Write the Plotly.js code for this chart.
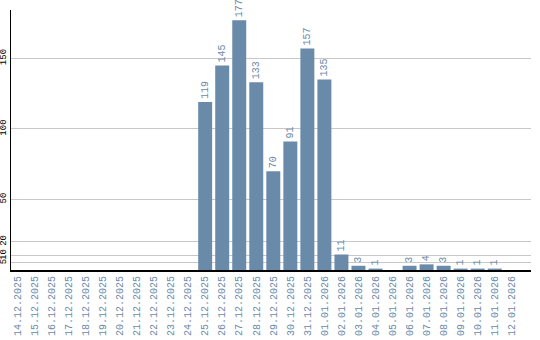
<!DOCTYPE html>
<html><head><meta charset="utf-8">
<script src="https://cdn.plot.ly/plotly-3.0.1.min.js"></script>
<style>html,body{margin:0;padding:0;background:#fff}#c{width:540px;height:340px}</style>
</head><body><div id="c"></div>
<script>
const dates = ["14.12.2025","15.12.2025","16.12.2025","17.12.2025","18.12.2025","19.12.2025","20.12.2025","21.12.2025","22.12.2025","23.12.2025","24.12.2025","25.12.2025","26.12.2025","27.12.2025","28.12.2025","29.12.2025","30.12.2025","31.12.2025","01.01.2026","02.01.2026","03.01.2026","04.01.2026","05.01.2026","06.01.2026","07.01.2026","08.01.2026","09.01.2026","10.01.2026","11.01.2026","12.01.2026"];
const values = [0,0,0,0,0,0,0,0,0,0,0,119,145,177,133,70,91,157,135,11,3,1,0,3,4,3,1,1,1,0];
const yTicks = [5,10,20,50,100,150];
const labels = values.map(v => v > 0 ? String(v) : "");
const trace = {
  type: "bar", x: dates, y: values, text: labels,
  textposition: "outside", textangle: -90, cliponaxis: false, constraintext: "none",
  textfont: {family: "Liberation Mono", size: 10, color: "#6a8aaa"},
  marker: {color: "#6a8aaa"}, hoverinfo: "none"
};
const layout = {
  width: 540, height: 340, showlegend: false,
  margin: {l: 11, r: 9, t: 10, b: 70},
  paper_bgcolor: "#fff", plot_bgcolor: "#fff",
  bargap: 0.18,
  xaxis: {type: "category", range: [-0.4, 30.13], tickangle: -90,
    tickfont: {family: "Liberation Mono", size: 10, color: "#6a8aaa"},
    showline: true, linecolor: "#000", linewidth: 2, showgrid: false, ticks: "", automargin: false},
  yaxis: {range: [0, 184.3], tickvals: yTicks, ticktext: yTicks.map(String), tickangle: -90,
    tickfont: {family: "Liberation Mono", size: 9, color: "#000"},
    showline: true, linecolor: "#000", linewidth: 1, gridcolor: "#c8c8c8", gridwidth: 1,
    zeroline: false, ticks: "", automargin: false}
};
Plotly.newPlot("c", [trace], layout, {staticPlot: true});
</script></body></html>
